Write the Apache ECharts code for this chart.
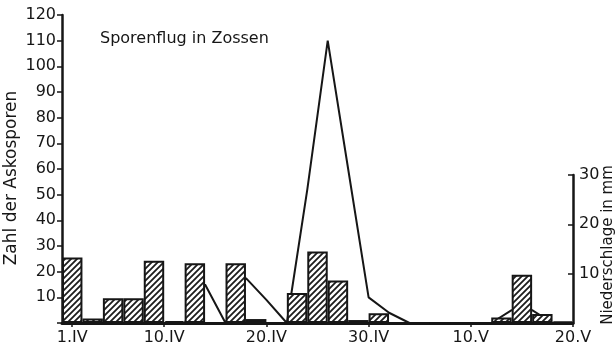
<!DOCTYPE html>
<html>
<head>
<meta charset="utf-8">
<script src="https://cdn.jsdelivr.net/npm/echarts@6/dist/echarts.min.js"></script>
<style>
  html, body { margin: 0; padding: 0; background: #fff; }
  #chart { width: 615px; height: 352px; }
</style>
</head>
<body>
<div id="chart"></div>
<script>
// Days counted from the end of March (1.IV = 1, 30.IV = 30, 10.V = 40, 20.V = 50)
const dayTicks = [1, 10, 20, 30, 40, 50];
const dayTickLabels = ['1.IV', '10.IV', '20.IV', '30.IV', '10.V', '20.V'];

// Rainfall in mm, one value per two-day period (25 periods from 1.IV to 20.V)
const rainPeriods = ['1-2.IV', '3-4.IV', '5-6.IV', '7-8.IV', '9-10.IV', '11-12.IV', '13-14.IV',
  '15-16.IV', '17-18.IV', '19-20.IV', '21-22.IV', '23-24.IV', '25-26.IV', '27-28.IV', '29-30.IV',
  '1-2.V', '3-4.V', '5-6.V', '7-8.V', '9-10.V', '11-12.V', '13-14.V', '15-16.V', '17-18.V', '19-20.V'];
const rainMm = [13.3, 0.9, 5.0, 5.0, 12.6, 0.4, 12.1, 0, 12.1, 0.8, 0, 6.1, 14.5, 8.6, 0.6,
  2.0, 0, 0, 0, 0, 0, 1.1, 9.8, 1.8, 0.3];

// Ascospore counts
const sporeDays = [0, 12, 14, 16, 18, 20, 22, 24, 26, 28, 30, 32, 34, 42, 44, 46, 48, 50];
const sporeCounts = [0, 0, 15, 0, 17.5, 9, 0, 52, 110, 60, 10, 4, 0, 0, 5, 5, 0, 0];

const FONT = 'DejaVu Sans';
const INK = '#161616';

// Diagonal hatching used to fill the rainfall bars
function hatchPattern() {
  const c = document.createElement('canvas');
  c.width = 6; c.height = 6;
  const g = c.getContext('2d');
  g.fillStyle = '#ffffff';
  g.fillRect(0, 0, 6, 6);
  g.strokeStyle = '#1c1c1c';
  g.lineWidth = 1.8;
  g.beginPath();
  g.moveTo(0, 6); g.lineTo(6, 0);
  g.moveTo(-3, 3); g.lineTo(3, -3);
  g.moveTo(3, 9); g.lineTo(9, 3);
  g.stroke();
  return c;
}

const chart = echarts.init(document.getElementById('chart'), null, { renderer: 'canvas' });

chart.setOption({
  animation: false,
  backgroundColor: '#ffffff',
  title: {
    text: 'Sporenflug in Zossen',
    left: 95,
    top: 26,
    textStyle: { fontFamily: FONT, fontSize: 16, fontWeight: 'normal', color: INK }
  },
  grid: [
    { left: 62, right: 42, top: 15, bottom: 29, outerBoundsMode: 'none' },
    { left: 62, right: 42, top: 175, bottom: 29, outerBoundsMode: 'none' }
  ],
  xAxis: [
    {
      type: 'value', gridIndex: 0, min: 0, max: 50,
      splitLine: { show: false },
      axisLine: { show: true, lineStyle: { color: INK, width: 3 } },
      axisTick: { show: true, customValues: dayTicks, length: 4, lineStyle: { color: INK, width: 1.5 } },
      axisLabel: {
        customValues: dayTicks,
        margin: 7,
        fontFamily: FONT, fontSize: 16, color: INK,
        formatter: function (v) { return dayTickLabels[dayTicks.indexOf(v)]; }
      }
    },
    {
      type: 'category', gridIndex: 1, data: rainPeriods, boundaryGap: true, show: false
    }
  ],
  yAxis: [
    {
      type: 'value', gridIndex: 0, min: 0, max: 120, interval: 10,
      name: 'Zahl der Askosporen', nameLocation: 'middle', nameRotate: 90, nameGap: 42,
      nameMoveOverlap: false,
      nameTextStyle: { fontFamily: FONT, fontSize: 17, color: INK, padding: [0, 18, 0, 0] },
      splitLine: { show: false },
      axisLine: { show: true, lineStyle: { color: INK, width: 2.5 } },
      axisTick: { show: true, length: 5, lineStyle: { color: INK, width: 1.5 } },
      axisLabel: { margin: 6, fontFamily: FONT, fontSize: 16, color: INK,
        formatter: function (v) { return v === 0 ? '' : String(v); } }
    },
    {
      type: 'value', gridIndex: 1, position: 'right', min: 0, max: 30, interval: 10,
      name: 'Niederschlage in mm', nameLocation: 'middle', nameRotate: 90, nameGap: 28,
      nameMoveOverlap: false,
      nameTextStyle: { fontFamily: FONT, fontSize: 15, color: INK, padding: [0, 0, 0, 8] },
      splitLine: { show: false },
      axisLine: { show: true, lineStyle: { color: INK, width: 2.5 } },
      axisTick: { show: true, inside: true, length: 5, lineStyle: { color: INK, width: 1.5 } },
      axisLabel: { margin: 6, fontFamily: FONT, fontSize: 16, color: INK,
        formatter: function (v) { return v === 0 ? '' : String(v); } }
    }
  ],
  series: [
    {
      name: 'Askosporen',
      type: 'line',
      xAxisIndex: 0, yAxisIndex: 0,
      data: sporeDays.map(function (d, i) { return [d, sporeCounts[i]]; }),
      symbol: 'none',
      lineStyle: { color: INK, width: 2 },
      z: 1
    },
    {
      name: 'Niederschlag',
      type: 'bar',
      xAxisIndex: 1, yAxisIndex: 1,
      data: rainMm,
      barWidth: '100%',
      barGap: '0%',
      itemStyle: {
        color: { image: hatchPattern(), repeat: 'repeat' },
        borderColor: INK,
        borderWidth: 2
      },
      z: 3
    }
  ]
});
</script>
</body>
</html>
